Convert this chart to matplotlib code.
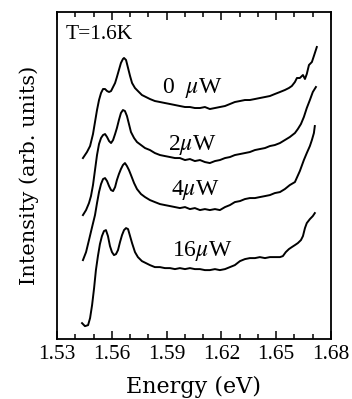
import matplotlib
matplotlib.use("Agg")
import matplotlib.pyplot as plt
from matplotlib.ticker import MultipleLocator, NullLocator

plt.rcParams['mathtext.fontset'] = 'stix'

# photoluminescence spectra at T = 1.6 K
e_0uw = [1.5442, 1.5464, 1.5481, 1.5497, 1.5508, 1.5519, 1.5530, 1.5541, 1.5552, 1.5563,
         1.5574, 1.5585, 1.5596, 1.5607, 1.5618, 1.5628, 1.5639, 1.5650, 1.5661, 1.5667,
         1.5678, 1.5689, 1.5700, 1.5711, 1.5727, 1.5743, 1.5765, 1.5787, 1.5809, 1.5836,
         1.5864, 1.5891, 1.5919, 1.5946, 1.5973, 1.6001, 1.6028, 1.6055, 1.6083, 1.6110,
         1.6137, 1.6165, 1.6192, 1.6220, 1.6247, 1.6274, 1.6302, 1.6329, 1.6356, 1.6384,
         1.6411, 1.6439, 1.6466, 1.6493, 1.6521, 1.6548, 1.6570, 1.6586, 1.6603, 1.6614,
         1.6630, 1.6647, 1.6658, 1.6668, 1.6680, 1.6696, 1.6707, 1.6723]
i_0uw = [181, 187, 193, 205, 217, 229, 239, 246, 250, 250,
         248, 247, 248, 252, 256, 262, 269, 276, 280, 281,
         279, 271, 263, 256, 251, 248, 244, 242, 240, 238,
         237, 236, 235, 234, 233, 232, 232, 231, 231, 232,
         230, 231, 232, 233, 235, 237, 238, 239, 239, 240,
         241, 242, 243, 245, 247, 249, 251, 253, 257, 261,
         261, 264, 260, 265, 274, 277, 283, 292]

e_2uw = [1.5442, 1.5459, 1.5475, 1.5486, 1.5497, 1.5508, 1.5519, 1.5530, 1.5541, 1.5552,
         1.5563, 1.5574, 1.5585, 1.5596, 1.5607, 1.5618, 1.5628, 1.5639, 1.5650, 1.5661,
         1.5672, 1.5683, 1.5694, 1.5705, 1.5722, 1.5738, 1.5760, 1.5782, 1.5809, 1.5836,
         1.5864, 1.5891, 1.5919, 1.5946, 1.5973, 1.6001, 1.6028, 1.6055, 1.6083, 1.6110,
         1.6137, 1.6165, 1.6192, 1.6220, 1.6247, 1.6274, 1.6302, 1.6329, 1.6356, 1.6384,
         1.6411, 1.6439, 1.6466, 1.6493, 1.6521, 1.6548, 1.6575, 1.6603, 1.6619, 1.6636,
         1.6652, 1.6668, 1.6685, 1.6701, 1.6718]
i_2uw = [124, 129, 136, 143, 154, 169, 184, 195, 201, 204,
         205, 202, 198, 196, 199, 205, 211, 219, 226, 229,
         228, 223, 215, 207, 201, 197, 194, 191, 189, 186,
         184, 183, 182, 181, 181, 179, 180, 178, 179, 177,
         176, 178, 179, 181, 182, 184, 185, 186, 187, 189,
         190, 191, 193, 194, 196, 199, 202, 206, 210, 215,
         222, 231, 239, 247, 252]

e_4uw = [1.5442, 1.5459, 1.5475, 1.5492, 1.5508, 1.5519, 1.5530, 1.5541, 1.5552, 1.5563,
         1.5574, 1.5585, 1.5596, 1.5607, 1.5618, 1.5628, 1.5639, 1.5650, 1.5661, 1.5672,
         1.5683, 1.5694, 1.5705, 1.5722, 1.5738, 1.5760, 1.5782, 1.5809, 1.5836, 1.5864,
         1.5891, 1.5919, 1.5946, 1.5973, 1.6001, 1.6028, 1.6055, 1.6083, 1.6110, 1.6137,
         1.6165, 1.6192, 1.6220, 1.6247, 1.6274, 1.6302, 1.6329, 1.6356, 1.6384, 1.6411,
         1.6439, 1.6466, 1.6493, 1.6521, 1.6548, 1.6575, 1.6603, 1.6630, 1.6652, 1.6668,
         1.6685, 1.6696, 1.6707, 1.6712]
i_4uw = [79, 87, 99, 112, 124, 136, 147, 155, 160, 161,
         158, 153, 149, 148, 152, 159, 165, 170, 174, 176,
         173, 169, 164, 156, 150, 145, 142, 139, 137, 135,
         134, 133, 132, 131, 132, 130, 131, 129, 130, 129,
         130, 129, 132, 134, 137, 138, 140, 141, 141, 142,
         143, 144, 146, 147, 150, 154, 157, 168, 179, 186,
         193, 199, 206, 213]

e_16uw = [1.5437, 1.5453, 1.5470, 1.5481, 1.5492, 1.5503, 1.5513, 1.5524, 1.5535, 1.5546,
          1.5557, 1.5568, 1.5579, 1.5590, 1.5601, 1.5612, 1.5623, 1.5634, 1.5645, 1.5656,
          1.5667, 1.5678, 1.5689, 1.5700, 1.5711, 1.5727, 1.5743, 1.5765, 1.5787, 1.5809,
          1.5836, 1.5864, 1.5891, 1.5919, 1.5946, 1.5973, 1.6001, 1.6028, 1.6055, 1.6083,
          1.6110, 1.6137, 1.6165, 1.6192, 1.6220, 1.6247, 1.6274, 1.6302, 1.6329, 1.6356,
          1.6384, 1.6411, 1.6439, 1.6466, 1.6493, 1.6521, 1.6537, 1.6553, 1.6570, 1.6586,
          1.6603, 1.6619, 1.6636, 1.6647, 1.6658, 1.6668, 1.6685, 1.6701, 1.6712]
i_16uw = [16, 13, 14, 21, 34, 51, 69, 83, 95, 103,
          108, 109, 103, 93, 87, 84, 85, 89, 97, 104,
          109, 111, 110, 103, 96, 87, 82, 78, 76, 74,
          72, 72, 71, 71, 70, 71, 70, 71, 70, 70,
          69, 69, 70, 69, 70, 72, 74, 78, 80, 81,
          81, 82, 81, 82, 82, 82, 83, 87, 90, 92,
          94, 96, 99, 103, 111, 116, 120, 123, 126]

labels = ['0  $\\mu$W', '2$\\mu$W', '4$\\mu$W', '16$\\mu$W']
label_x = [1.6039, 1.6039, 1.6055, 1.6094]
label_y = [251, 194, 149, 88]

fig = plt.figure(figsize=(3.52, 3.99), dpi=100)
ax = fig.add_axes([0.162, 0.150, 0.778, 0.820])

for e, i in [(e_0uw, i_0uw), (e_2uw, i_2uw), (e_4uw, i_4uw), (e_16uw, i_16uw)]:
    ax.plot(e, i, color='black', lw=1.4)

for txt, x, y in zip(labels, label_x, label_y):
    ax.text(x, y, txt, fontsize=17, family='Liberation Serif', ha='center', va='center')

ax.text(0.032, 0.93, 'T=1.6K', transform=ax.transAxes, fontsize=15.5,
        family='Liberation Serif', ha='left', va='center')

ax.set_xlim(1.53, 1.68)
ax.set_ylim(0, 327)
ax.xaxis.set_minor_locator(MultipleLocator(0.01))
ax.yaxis.set_major_locator(NullLocator())
ax.tick_params(axis='x', which='both', direction='in', top=True, bottom=True, pad=4)
ax.tick_params(axis='x', which='major', length=6, width=1.1)
ax.tick_params(axis='x', which='minor', length=3.5, width=1.1)
ticks = [1.53, 1.56, 1.59, 1.62, 1.65, 1.68]
ax.set_xticks(ticks)
ax.set_xticklabels(['%.2f' % t for t in ticks], fontsize=15.5, family='Liberation Serif')

for s in ax.spines.values():
    s.set_linewidth(1.3)

ax.set_xlabel('Energy (eV)', fontsize=16, family='DejaVu Serif', labelpad=9)
ax.set_ylabel('Intensity (arb. units)', fontsize=15, family='DejaVu Serif', labelpad=13)

fig.savefig('out.png', dpi=100)
